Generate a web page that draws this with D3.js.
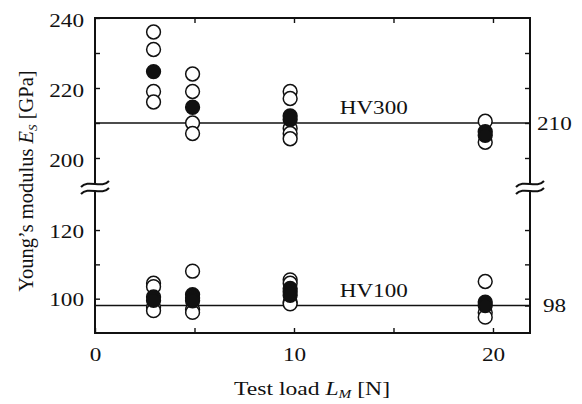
<!DOCTYPE html>
<html><head><meta charset="utf-8">
<script src="https://cdn.jsdelivr.net/npm/d3@7"></script>
<style>
html,body{margin:0;padding:0;background:#fff;}
text{font-family:"Liberation Serif","Times New Roman",serif;fill:#111;}
</style></head>
<body><svg id="c" width="582" height="404"></svg>
<script>
// ---- data ----
const loads = [2.942, 4.903, 9.807, 19.61];
const hv300Open   = [[236,231,219,216],[224,219,210,207],[219,217,208.5,207,205.5],[210.5,204.5]];
const hv300Filled = [[224.7],[214.5],[212,211],[207.5,206.5]];
const hv100Open   = [[104.5,103.5,97.5,96.5],[108,96.8,96],[105.5,104.5,99,98.5],[105,96,94.6]];
const hv100Filled = [[100.5,99.5],[101.2,100.2,99.4],[103,102,101],[99,98]];
const refValues = [{v:210, label:"HV300", seg:"upper"},{v:98, label:"HV100", seg:"lower"}];
const xTickLabels = [0,10,20];
const xTicks = [5,10,15,20];
const upperTicks = [240,230,220,210,200];
const upperLabels = [240,220,200];
const lowerTicks = [120,110,100];
const lowerLabels = [120,100];

// ---- layout ----
const svg = d3.select("#c");
const L=95, R=530, T=18, B=333;
const breakUpper=184, breakLower=191;
const x = d3.scaleLinear().domain([0,21.86]).range([L,R]);
const yU = d3.scaleLinear().domain([192.57,240]).range([breakUpper,T]);
const yL = d3.scaleLinear().domain([90,131.2]).range([B,breakLower+0.6]);
const frameW = 2;
const digitW = 11.6;

const g = svg.append("g");

// reference lines
refValues.forEach(r=>{
  const y = r.seg==="upper" ? yU(r.v) : yL(r.v);
  g.append("line").attr("x1",L).attr("x2",R).attr("y1",y).attr("y2",y)
   .attr("stroke","#111").attr("stroke-width",1.4);
  g.append("text").attr("x",x(12.3)).attr("y",y-9).attr("font-size",19)
   .attr("textLength",68).attr("lengthAdjust","spacingAndGlyphs").text(r.label);
});

// points
function drawPts(arr, yscale, filled){
  arr.forEach((vals,i)=>{
    vals.forEach(v=>{
      g.append("circle").attr("cx",x(loads[i])).attr("cy",yscale(v)).attr("r",6.9)
       .attr("fill",filled?"#111":"#fff").attr("stroke","#111").attr("stroke-width",1.5);
    });
  });
}
drawPts(hv300Open,yU,false);
drawPts(hv300Filled,yU,true);
drawPts(hv100Open,yL,false);
drawPts(hv100Filled,yL,true);

// frame
const fr = g.append("g").attr("stroke","#111").attr("stroke-width",frameW).attr("fill","none");
fr.append("line").attr("x1",L-1).attr("x2",R+1).attr("y1",T).attr("y2",T);
fr.append("line").attr("x1",L-1).attr("x2",R+1).attr("y1",B).attr("y2",B);
[L,R].forEach(xx=>{
  fr.append("line").attr("x1",xx).attr("x2",xx).attr("y1",T-1).attr("y2",breakUpper);
  fr.append("line").attr("x1",xx).attr("x2",xx).attr("y1",breakLower).attr("y2",B+1);
});

// axes with inward ticks
function axisStyle(sel){
  sel.select(".domain").remove();
  sel.selectAll(".tick line").attr("stroke","#111").attr("stroke-width",1.4);
  sel.selectAll("text").attr("font-size",19.5).attr("font-family","Liberation Serif, Times New Roman, serif")
    .each(function(){
      const t = d3.select(this).text();
      if(t.length) d3.select(this).attr("textLength",t.length*digitW).attr("lengthAdjust","spacingAndGlyphs");
    });
}
const fmtU = d=> upperLabels.includes(d)? d : "";
const fmtL = d=> lowerLabels.includes(d)? d : "";
svg.append("g").attr("transform",`translate(${L},2)`)
  .call(d3.axisLeft(yU).tickValues(upperTicks).tickSizeInner(0).tickSizeOuter(0).tickPadding(11).tickFormat(fmtU))
  .call(axisStyle);
svg.append("g").attr("transform",`translate(${L},0)`)
  .call(d3.axisLeft(yU).tickValues(upperTicks).tickSizeInner(-5).tickSizeOuter(0).tickFormat(""))
  .call(axisStyle);
svg.append("g").attr("transform",`translate(${L},1)`)
  .call(d3.axisLeft(yL).tickValues(lowerTicks).tickSizeInner(0).tickSizeOuter(0).tickPadding(11).tickFormat(fmtL))
  .call(axisStyle);
svg.append("g").attr("transform",`translate(${L},0)`)
  .call(d3.axisLeft(yL).tickValues(lowerTicks).tickSizeInner(-5).tickSizeOuter(0).tickFormat(""))
  .call(axisStyle);
svg.append("g").attr("transform",`translate(${R},0)`)
  .call(d3.axisRight(yU).tickValues(upperTicks.filter(d=>d!==240)).tickSizeInner(-5).tickSizeOuter(0).tickFormat(d=> d===210?"210":""))
  .call(axisStyle).selectAll("text").attr("x",7);
svg.append("g").attr("transform",`translate(${R},0)`)
  .call(d3.axisRight(yL).tickValues(lowerTicks.concat([98])).tickSizeInner(-5).tickSizeOuter(0).tickFormat(d=> d===98?"98":""))
  .call(axisStyle).selectAll("text").attr("x",13);
svg.append("g").attr("transform",`translate(0,${B})`)
  .call(d3.axisBottom(x).tickValues(xTicks.concat([0])).tickSizeInner(-5).tickSizeOuter(0).tickPadding(14)
    .tickFormat(d=> xTickLabels.includes(d)? d : ""))
  .call(axisStyle);
svg.append("g").attr("transform",`translate(0,${T})`)
  .call(d3.axisTop(x).tickValues(xTicks).tickSizeInner(-5).tickSizeOuter(0).tickFormat(""))
  .call(axisStyle);

// break marks
function breakMark(cx){
  const w=14;
  [breakUpper, breakLower].forEach(yy=>{
    const p = d3.path();
    p.moveTo(cx-w, yy+3);
    p.bezierCurveTo(cx-w/2, yy-5, cx+w/2, yy+5, cx+w, yy-3);
    svg.append("path").attr("d",p.toString()).attr("fill","none").attr("stroke","#111").attr("stroke-width",2);
  });
}
breakMark(L); breakMark(R);

// axis titles
const yt = svg.append("text").attr("transform","translate(33,181) rotate(-90)")
  .attr("text-anchor","middle").attr("font-size",20.5);
yt.append("tspan").text("Young’s modulus ");
yt.append("tspan").attr("font-style","italic").text("E");
yt.append("tspan").attr("font-style","italic").attr("font-size",13).attr("dy",4).text("S");
yt.append("tspan").attr("dy",-4).text(" [GPa]");

const xt = svg.append("text").attr("x",234).attr("y",395).attr("font-size",18.5)
  .attr("textLength",156).attr("lengthAdjust","spacingAndGlyphs");
xt.append("tspan").text("Test load ");
xt.append("tspan").attr("font-style","italic").text("L");
xt.append("tspan").attr("font-style","italic").attr("font-size",12).attr("dy",3).text("M");
xt.append("tspan").attr("dy",-3).text(" [N]");
</script></body></html>
